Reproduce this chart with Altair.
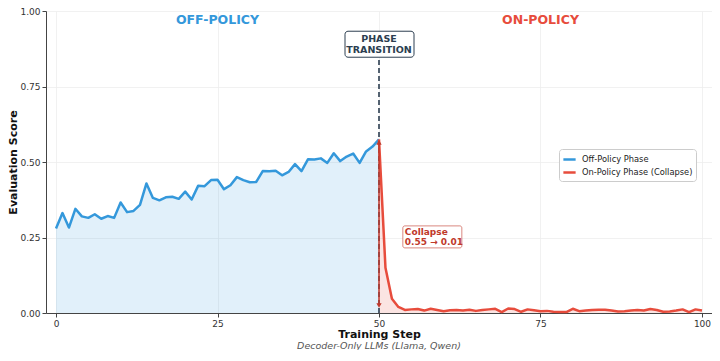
import altair as alt
import pandas as pd

# ---- data ----
off_steps = list(range(0, 51))
off_scores = [0.280, 0.331, 0.283, 0.345, 0.320, 0.315, 0.327, 0.312, 0.321, 0.315,
              0.366, 0.334, 0.338, 0.358, 0.429, 0.381, 0.373, 0.383, 0.385, 0.378,
              0.402, 0.376, 0.421, 0.420, 0.440, 0.441, 0.410, 0.423, 0.450, 0.440,
              0.433, 0.434, 0.470, 0.469, 0.471, 0.456, 0.467, 0.493, 0.470, 0.509,
              0.508, 0.512, 0.497, 0.529, 0.503, 0.518, 0.528, 0.497, 0.535, 0.551,
              0.575]
on_steps = list(range(50, 101))
on_scores = [0.575, 0.150, 0.047, 0.020, 0.010, 0.012, 0.013, 0.008, 0.014, 0.010,
             0.006, 0.009, 0.010, 0.008, 0.011, 0.007, 0.010, 0.012, 0.014, 0.003,
             0.015, 0.013, 0.004, 0.012, 0.009, 0.006, 0.007, 0.004, 0.003, 0.003,
             0.014, 0.006, 0.008, 0.010, 0.011, 0.011, 0.008, 0.005, 0.006, 0.008,
             0.010, 0.008, 0.013, 0.010, 0.004, 0.005, 0.008, 0.012, 0.003, 0.012,
             0.008]
phases = ["Off-Policy Phase", "On-Policy Phase (Collapse)"]
phase_colors = ["#3498db", "#e74c3c"]
x_ticks = [0, 25, 50, 75, 100]
y_ticks = [0, 0.25, 0.5, 0.75, 1.0]

region_labels = ["OFF-POLICY", "ON-POLICY"]
region_x = [25, 75]
region_y = [0.97, 0.97]
transition_step = 50
transition_label = "PHASE\nTRANSITION"
transition_label_y = 0.89
transition_line_top = 0.85
arrow_top = 0.565
arrow_bottom = 0.025
collapse_label = "Collapse\n0.55 → 0.01"
collapse_x = 54
collapse_y = 0.252

FONT = "DejaVu Sans"
DARK = "#2c3e50"
DARKRED = "#c0392b"

df = pd.DataFrame({
    "step": off_steps + on_steps,
    "score": off_scores + on_scores,
    "phase": [phases[0]] * len(off_steps) + [phases[1]] * len(on_steps),
})

W, H = 666, 302
xs = alt.Scale(domain=[-1.55, 101.55], nice=False, zero=False)
ys = alt.Scale(domain=[0, 1], nice=False)
cs = alt.Scale(domain=phases, range=phase_colors)

x_enc = alt.X("step:Q", scale=xs,
              axis=alt.Axis(values=x_ticks, title="Training Step", format="d"))
y_enc = alt.Y("score:Q", scale=ys,
              axis=alt.Axis(values=y_ticks, title="Evaluation Score", format=".2f"))

base = alt.Chart(df)

area = base.mark_area(opacity=0.15).encode(
    x=x_enc, y=y_enc.stack(None),
    color=alt.Color("phase:N", scale=cs, legend=None),
    detail="phase:N",
)

line = base.mark_line(strokeWidth=2.5, strokeJoin="round").encode(
    x=x_enc, y=y_enc,
    color=alt.Color("phase:N", scale=cs, legend=alt.Legend(
        title=None, orient="none", legendX=513, legendY=138,
        symbolType="stroke", symbolStrokeWidth=2.5, symbolSize=150,
        labelFont=FONT, labelFontSize=8.3, labelColor="#222",
        fillColor="white", strokeColor="#cccccc", padding=3,
        cornerRadius=3, rowPadding=0, labelOffset=5)),
)

ann_df = pd.DataFrame({"x": [transition_step], "y0": [0.0], "y1": [transition_line_top],
                       "ay": [transition_label_y], "t": [transition_label],
                       "atop": [arrow_top], "abot": [arrow_bottom],
                       "cx": [collapse_x], "cy": [collapse_y], "ct": [collapse_label]})
ann = alt.Chart(ann_df)

vline = ann.mark_rule(color=DARK, strokeDash=[5, 3], strokeWidth=1.6).encode(
    x=alt.X("x:Q", scale=xs), y=alt.Y("y0:Q", scale=ys), y2="y1:Q")

tbox = ann.mark_rect(fill="white", stroke=DARK, strokeWidth=1, cornerRadius=3,
                     xOffset=-34, x2Offset=35, yOffset=-13, y2Offset=13).encode(
    x=alt.X("x:Q", scale=xs), x2="x:Q", y=alt.Y("ay:Q", scale=ys), y2="ay:Q")
ttext = ann.mark_text(font=FONT, fontSize=9.5, fontWeight="bold", color=DARK,
                      align="center", baseline="middle", lineBreak="\n",
                      lineHeight=11, dy=-5.5).encode(
    x=alt.X("x:Q", scale=xs), y=alt.Y("ay:Q", scale=ys), text="t:N")

arrow = ann.mark_rule(color=DARKRED, strokeWidth=1.5).encode(
    x=alt.X("x:Q", scale=xs), y=alt.Y("atop:Q", scale=ys), y2="abot:Q")
head_top = ann.mark_point(shape="triangle-up", filled=True, color=DARKRED,
                          size=28, opacity=1).encode(
    x=alt.X("x:Q", scale=xs), y=alt.Y("atop:Q", scale=ys))
head_bot = ann.mark_point(shape="triangle-down", filled=True, color=DARKRED,
                          size=28, opacity=1).encode(
    x=alt.X("x:Q", scale=xs), y=alt.Y("abot:Q", scale=ys))

cbox = ann.mark_rect(fill="white", fillOpacity=0.85, stroke=DARKRED, strokeOpacity=0.6,
                     strokeWidth=1, cornerRadius=2,
                     xOffset=-2, x2Offset=57, yOffset=-11, y2Offset=11).encode(
    x=alt.X("cx:Q", scale=xs), x2="cx:Q", y=alt.Y("cy:Q", scale=ys), y2="cy:Q")
ctext = ann.mark_text(font=FONT, fontSize=9, fontWeight="bold", color=DARKRED,
                      align="left", baseline="middle", lineBreak="\n",
                      lineHeight=10.5, dy=-5).encode(
    x=alt.X("cx:Q", scale=xs), y=alt.Y("cy:Q", scale=ys), text="ct:N")

reg_df = pd.DataFrame({"x": region_x, "y": region_y, "t": region_labels,
                       "c": [phase_colors[0], phase_colors[1]]})
regions = alt.Chart(reg_df).mark_text(font=FONT, fontSize=12.5, fontWeight="bold",
                                      baseline="middle").encode(
    x=alt.X("x:Q", scale=xs), y=alt.Y("y:Q", scale=ys), text="t:N",
    color=alt.Color("c:N", scale=None))

chart = alt.layer(area, vline, line, arrow, head_top, head_bot, tbox, ttext,
                  cbox, ctext, regions).properties(
    width=W, height=H,
    autosize=alt.AutoSizeParams(type="none"),
    padding={"left": 38, "top": 3, "right": 0, "bottom": 37},
    title=alt.TitleParams(text="Decoder-Only LLMs (Llama, Qwen)", orient="bottom",
                          font=FONT, fontSize=9.5, fontStyle="italic",
                          fontWeight="normal", color="#555555", anchor="middle",
                          offset=2),
).resolve_scale(color="independent").configure_view(stroke=None).configure_axis(
    labelFont=FONT, labelFontSize=9, labelColor="#333333",
    titleFont=FONT, titleFontSize=11, titleFontWeight="bold", titleColor="#111111",
    domainColor="#444444", tickColor="#444444", tickSize=4,
    gridColor="#eeeeee", gridWidth=0.8,
).configure_axisX(titlePadding=0, labelPadding=2).configure_axisY(
    titlePadding=1, labelPadding=2)

chart.save("out.html", embed_options={"renderer": "svg", "actions": False})
